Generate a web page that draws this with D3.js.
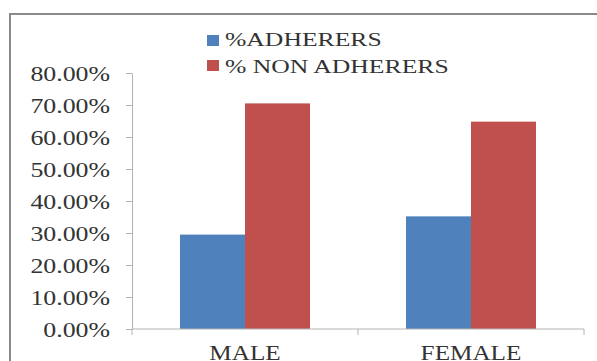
<!DOCTYPE html>
<html>
<head>
<meta charset="utf-8">
<script src="https://cdn.jsdelivr.net/npm/d3@7/dist/d3.min.js"></script>
<style>
  html, body { margin: 0; padding: 0; background: #fff; }
  svg { display: block; }
  text { font-family: "Liberation Serif", "Times New Roman", serif; fill: #333333; }
</style>
</head>
<body>
<svg id="chart" width="597" height="361"></svg>
<script>
// ---- data ----
const categories = ["MALE", "FEMALE"];
const seriesNames = ["%ADHERERS", "% NON ADHERERS"];
const adherers = [29.5, 35.2];
const nonAdherers = [70.5, 64.8];
const yTicks = [0, 10, 20, 30, 40, 50, 60, 70, 80];
const colors = ["#4F81BD", "#C0504D"];

const seriesValues = [adherers, nonAdherers];
const rows = categories.map((c, i) => ({
  cat: c,
  vals: seriesNames.map((s, j) => ({ series: s, idx: j, value: seriesValues[j][i] }))
}));

const svg = d3.select("#chart");

// outer frame (extends past right/bottom edges)
svg.append("rect")
  .attr("x", 10).attr("y", 14)
  .attr("width", 620).attr("height", 420)
  .attr("fill", "#fff")
  .attr("stroke", "#8a8a8a").attr("stroke-width", 2);

const plotLeft = 132, plotRight = 584, plotTop = 73, plotBottom = 329;

const y = d3.scaleLinear().domain([0, 80]).range([plotBottom, plotTop]);
const pi = 96 / 226;
const x0 = d3.scaleBand().domain(categories).range([plotLeft, plotRight])
  .paddingInner(pi).paddingOuter(pi / 2);
const x1 = d3.scaleBand().domain(seriesNames).range([0, x0.bandwidth()]);

// bars
const groups = svg.append("g").selectAll("g").data(rows).join("g")
  .attr("transform", d => `translate(${x0(d.cat)},0)`);
groups.selectAll("rect").data(d => d.vals).join("rect")
  .attr("x", d => x1(d.series))
  .attr("y", d => y(d.value))
  .attr("width", x1.bandwidth())
  .attr("height", d => y(0) - y(d.value))
  .attr("fill", d => colors[d.idx]);

const axisColor = "#b3b3b3";

// y axis
const kY = 1.23;
const yAxis = svg.append("g").attr("transform", `translate(${plotLeft},0)`)
  .call(d3.axisLeft(y).tickValues(yTicks).tickSize(6).tickSizeOuter(0)
    .tickFormat(d => d.toFixed(2) + "%"));
yAxis.select(".domain").attr("stroke", axisColor);
yAxis.selectAll(".tick line").attr("stroke", axisColor);
yAxis.selectAll(".tick text")
  .attr("x", -22 / kY)
  .attr("dy", "0.35em")
  .attr("transform", `scale(${kY},1)`)
  .style("font-size", "21px")
  .style("font-family", "'Liberation Serif', serif")
  .style("fill", "#333333");

// x axis: line + ticks at band boundaries
const xAxisG = svg.append("g");
xAxisG.append("line")
  .attr("x1", plotLeft).attr("x2", plotRight)
  .attr("y1", plotBottom).attr("y2", plotBottom)
  .attr("stroke", axisColor);
const boundaries = [plotLeft].concat(categories.map(c => x0(c) + x0.bandwidth() + x0.step() * pi / 2));
xAxisG.selectAll("line.tk").data(boundaries).join("line")
  .attr("class", "tk")
  .attr("x1", d => d).attr("x2", d => d)
  .attr("y1", plotBottom).attr("y2", plotBottom + 6)
  .attr("stroke", axisColor);

// category labels
const kX = 1.2;
xAxisG.selectAll("text").data(categories).join("text")
  .attr("transform", d => `translate(${x0(d) + x0.bandwidth() / 2},360) scale(${kX},1)`)
  .attr("text-anchor", "middle")
  .style("font-size", "21px")
  .text(d => d);

// legend
const kL = 1.35;
const legend = svg.append("g");
const legendY = [35, 60];
const legendBase = [46, 73];
seriesNames.forEach((s, i) => {
  legend.append("rect")
    .attr("x", 207).attr("y", legendY[i])
    .attr("width", 12).attr("height", 11)
    .attr("fill", colors[i]);
  legend.append("text")
    .attr("transform", `translate(225,${legendBase[i]}) scale(${kL},1)`)
    .style("font-size", "19px")
    .text(s);
});
</script>
</body>
</html>
